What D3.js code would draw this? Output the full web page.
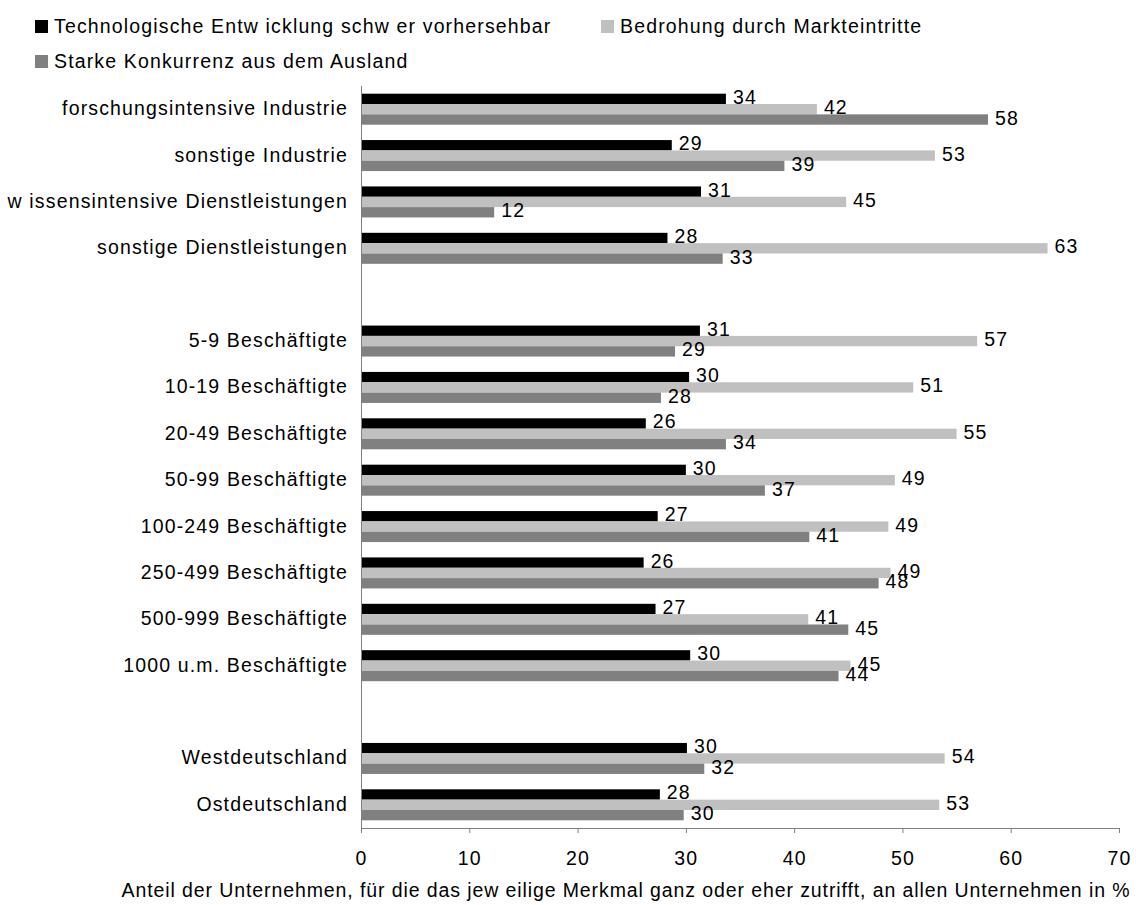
<!DOCTYPE html>
<html>
<head>
<meta charset="utf-8">
<script src="https://cdn.jsdelivr.net/npm/d3@7/dist/d3.min.js"></script>
<style>
  html, body { margin: 0; padding: 0; background: #fff; }
  svg { display: block; }
  text { font-family: "Liberation Sans", Arial, sans-serif; fill: #000; }
</style>
</head>
<body>
<svg id="chart" width="1136" height="905"></svg>
<script>
// ---- data ----
const categories = [
  "forschungsintensive Industrie",
  "sonstige Industrie",
  "w issensintensive Dienstleistungen",
  "sonstige Dienstleistungen",
  "",
  "5-9 Beschäftigte",
  "10-19 Beschäftigte",
  "20-49 Beschäftigte",
  "50-99 Beschäftigte",
  "100-249 Beschäftigte",
  "250-499 Beschäftigte",
  "500-999 Beschäftigte",
  "1000 u.m. Beschäftigte",
  "",
  "Westdeutschland",
  "Ostdeutschland"
];
const seriesNames = [
  "Technologische Entw icklung schw er vorhersehbar",
  "Bedrohung durch Markteintritte",
  "Starke Konkurrenz aus dem Ausland"
];
const technologisch = [33.7, 28.7, 31.4, 28.3, null, 31.3, 30.3, 26.3, 30.0, 27.4, 26.1, 27.2, 30.4, null, 30.1, 27.6];
const markteintritte = [42.1, 53.0, 44.8, 63.4, null, 56.9, 51.0, 55.0, 49.3, 48.7, 48.9, 41.3, 45.2, null, 53.9, 53.4];
const ausland = [57.9, 39.1, 12.3, 33.4, null, 29.0, 27.7, 33.7, 37.3, 41.4, 47.8, 45.0, 44.1, null, 31.7, 29.8];
const xTicks = [0, 10, 20, 30, 40, 50, 60, 70];
const axisTitle = "Anteil der Unternehmen, für die das jew eilige Merkmal ganz oder eher zutrifft, an allen Unternehmen in %";
const colors = ["#000000", "#c0c0c0", "#808080"];

// ---- layout ----
const svg = d3.select("#chart");
const plot = { left: 361, right: 1119, top: 86, bottom: 828 };
const fontSize = 19.5;
const ls = 1.15;

const x = d3.scaleLinear().domain([0, 70]).range([plot.left, plot.right]);
const y = d3.scaleBand().domain(d3.range(categories.length)).range([plot.top, plot.bottom]).padding(0);
const groupH = 31;
const sub = d3.scaleBand().domain([0, 1, 2]).range([(y.bandwidth() - groupH) / 2, (y.bandwidth() + groupH) / 2]);

const series = [technologisch, markteintritte, ausland];

// bars
series.forEach((vals, si) => {
  const data = vals.map((v, i) => ({ v, i })).filter(d => d.v !== null);
  svg.append("g").selectAll("rect").data(data).join("rect")
    .attr("x", x(0))
    .attr("y", d => y(d.i) + sub(si))
    .attr("width", d => x(d.v) - x(0))
    .attr("height", sub.bandwidth())
    .attr("fill", colors[si]);
});

// value labels
series.forEach((vals, si) => {
  const data = vals.map((v, i) => ({ v, i })).filter(d => d.v !== null);
  svg.append("g").selectAll("text").data(data).join("text")
    .attr("x", d => x(d.v) + 7)
    .attr("y", d => y(d.i) + sub(si) + sub.bandwidth() / 2 + 5)
    .attr("font-size", fontSize)
    .style("letter-spacing", ls + "px")
    .text(d => d3.format(".0f")(d.v));
});

// category labels
svg.append("g").selectAll("text").data(categories.map((c, i) => ({ c, i })).filter(d => d.c)).join("text")
  .attr("x", 348)
  .attr("y", d => y(d.i) + y.bandwidth() / 2 + 6)
  .attr("text-anchor", "end")
  .attr("font-size", fontSize)
  .style("letter-spacing", ls + "px")
  .text(d => d.c);

// y axis line
svg.append("line")
  .attr("x1", x(0) + 0.5).attr("x2", x(0) + 0.5)
  .attr("y1", plot.top).attr("y2", plot.bottom)
  .attr("stroke", "#808080").attr("stroke-width", 1);

// x axis
const xAxis = d3.axisBottom(x).tickValues(xTicks).tickSize(5).tickSizeOuter(0).tickFormat(d3.format("d"));
const gx = svg.append("g").attr("transform", `translate(0,${plot.bottom})`).call(xAxis);
gx.select(".domain").attr("stroke", "#808080");
gx.selectAll(".tick line").attr("stroke", "#808080");
gx.selectAll(".tick text")
  .attr("font-size", fontSize)
  .attr("font-family", "Liberation Sans, Arial, sans-serif")
  .attr("fill", "#000")
  .attr("y", 0).attr("dy", 0)
  .attr("transform", "translate(0,37)")
  .style("letter-spacing", ls + "px");

// axis title
svg.append("text")
  .attr("x", 626)
  .attr("y", 897)
  .attr("text-anchor", "middle")
  .attr("font-size", fontSize)
  .style("letter-spacing", "0.9px")
  .text(axisTitle);

// legend
const legendItems = [
  { name: seriesNames[0], color: colors[0], x: 35, y: 20 },
  { name: seriesNames[1], color: colors[1], x: 601, y: 20 },
  { name: seriesNames[2], color: colors[2], x: 35, y: 55 }
];
const lg = svg.append("g");
legendItems.forEach(it => {
  lg.append("rect").attr("x", it.x).attr("y", it.y).attr("width", 13).attr("height", 13).attr("fill", it.color);
  lg.append("text").attr("x", it.x + 19).attr("y", it.y + 13)
    .attr("font-size", fontSize)
    .style("letter-spacing", ls + "px")
    .text(it.name);
});
</script>
</body>
</html>
